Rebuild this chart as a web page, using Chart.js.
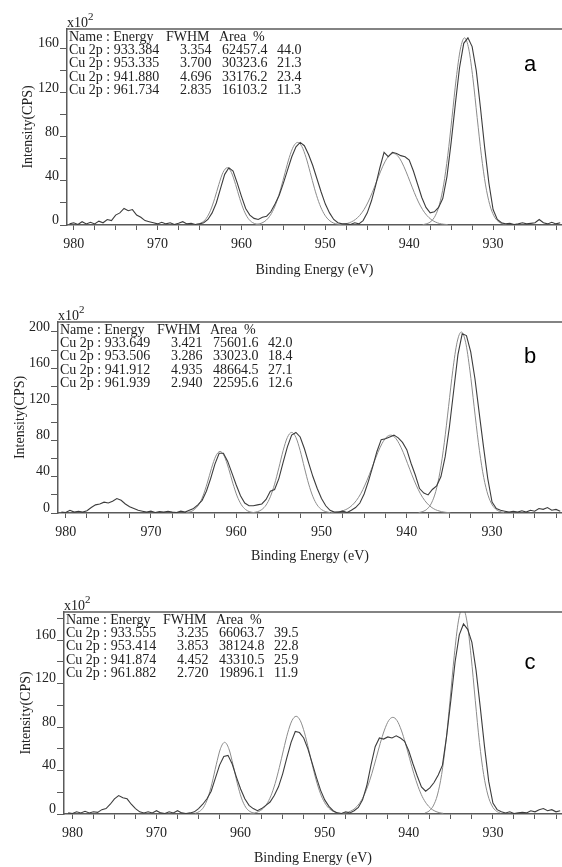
<!DOCTYPE html>
<html>
<head>
<meta charset="utf-8">
<title>Cu 2p XPS spectra</title>
<script src="https://cdn.jsdelivr.net/npm/chart.js@4.4.1/dist/chart.umd.min.js"></script>
<style>
  html, body { margin: 0; padding: 0; background: #fff; }
  body { width: 562px; height: 867px; position: relative; overflow: hidden; }
  .panel { position: absolute; left: 0; width: 562px; }
  #panelA { top: 0; height: 290px; }
  #panelB { top: 290px; height: 285px; }
  #panelC { top: 575px; height: 292px; }
</style>
</head>
<body>
<div class="panel" id="panelA"><canvas id="chartA"></canvas></div>
<div class="panel" id="panelB"><canvas id="chartB"></canvas></div>
<div class="panel" id="panelC"><canvas id="chartC"></canvas></div>
<script>
// Binding energy grid of the measured spectra (eV)
var energy = [
  980.5, 980, 979.5, 979, 978.5, 978, 977.5, 977, 976.5, 976,
  975.5, 975, 974.5, 974, 973.5, 973, 972.5, 972, 971.5, 971,
  970.5, 970, 969.5, 969, 968.5, 968, 967.5, 967, 966.5, 966,
  965.5, 965, 964.5, 964, 963.5, 963, 962.5, 962, 961.5, 961,
  960.5, 960, 959.5, 959, 958.5, 958, 957.5, 957, 956.5, 956,
  955.5, 955, 954.5, 954, 953.5, 953, 952.5, 952, 951.5, 951,
  950.5, 950, 949.5, 949, 948.5, 948, 947.5, 947, 946.5, 946,
  945.5, 945, 944.5, 944, 943.5, 943, 942.5, 942, 941.5, 941,
  940.5, 940, 939.5, 939, 938.5, 938, 937.5, 937, 936.5, 936,
  935.5, 935, 934.5, 934, 933.5, 933, 932.5, 932, 931.5, 931,
  930.5, 930, 929.5, 929, 928.5, 928, 927.5, 927, 926.5, 926,
  925.5, 925, 924.5, 924, 923.5, 923, 922.5, 922
];

// Measured intensity, x10^2 CPS
var countsA = [
  1, 2, 0.5, 3, 1, 2.5, 1, 3.5, 2, 5,
  4, 9, 11, 15, 13, 14, 9, 7, 4, 3,
  2, 1, 2.5, 1, 2, 0.5, 1.5, 3, 1, 1.5,
  0.5, 1, 2, 5, 11, 20, 33, 46, 52, 49,
  38, 26, 15, 9, 6, 5, 7, 8, 12, 19,
  27, 38, 50, 62, 71, 75, 72, 64, 54, 42,
  30, 19, 11, 5, 2, 1, 1, 0.5, 2, 1,
  4, 11, 22, 36, 52, 66, 62, 66, 65, 63,
  62, 59, 49, 37, 25, 16, 11, 12, 16, 24,
  44, 75, 110, 143, 165, 170, 162, 140, 106, 70,
  38, 14, 5, 2, 1, 1.5, 0.5, 1, 2, 1,
  1.5, 2, 5, 2, 1, 2.5, 1, 2
];
var countsB = [
  1, 0.5, 3, 1, 2, 1, 2.5, 6, 9, 10,
  12, 11, 13, 16, 14, 10, 7, 5, 3, 2,
  1, 2, 0.5, 1.5, 1, 2, 1, 0.5, 2, 1,
  3, 5, 9, 14, 24, 38, 54, 66, 66, 57,
  44, 31, 19, 11, 8, 8, 9, 10, 15, 24,
  26, 38, 56, 73, 86, 89, 84, 71, 55, 40,
  27, 16, 8, 3, 1, 1, 2, 0.5, 3, 6,
  11, 21, 35, 51, 68, 81, 82, 84, 86, 83,
  78, 70, 55, 42, 27, 22, 20, 26, 30, 40,
  62, 95, 135, 175, 198, 196, 178, 148, 110, 73,
  38, 12, 5, 3, 2, 1, 2, 1, 2.5, 1,
  3, 2, 5, 4, 6, 3, 4, 2
];
var countsC = [
  1, 0.5, 2, 1, 2.5, 1, 2, 1.5, 4, 5,
  9, 14, 17, 15, 14, 9, 5, 2, 1, 2,
  1, 3, 1, 0.5, 2, 1, 3, 1, 0.5, 1,
  2, 5, 9, 14, 21, 33, 45, 53, 54, 46,
  34, 23, 14, 8, 5, 3, 5, 8, 11, 17,
  25, 37, 52, 66, 76, 75, 70, 60, 47, 34,
  22, 13, 7, 3, 1, 0.5, 2, 1, 3, 6,
  13, 26, 45, 62, 70, 69, 71, 70, 72, 70,
  67, 58, 46, 35, 25, 21, 24, 29, 36, 45,
  72, 105, 140, 165, 175, 170, 158, 132, 98, 62,
  30, 10, 4, 2, 1, 2, 0.5, 1, 1.5, 1,
  3, 2, 4, 5, 3, 4, 2, 3
];

// Fitted Cu 2p components, panel a
var fitA1Energy = [938.4, 937.9, 937.4, 936.9, 936.4, 935.9, 935.4, 934.9, 934.4, 933.9, 933.4, 932.9, 932.4, 931.9, 931.4, 930.9, 930.4, 929.9, 929.4, 928.9, 928.4];
var fitA1Counts = [0.3, 1.2, 3.3, 8.3, 18.5, 36.4, 63.4, 97.6, 132.8, 159.8, 170, 159.8, 132.8, 97.6, 63.4, 36.4, 18.5, 8.3, 3.3, 1.2, 0.3];
var fitA2Energy = [958.3, 957.8, 957.3, 956.8, 956.3, 955.8, 955.3, 954.8, 954.3, 953.8, 953.3, 952.8, 952.3, 951.8, 951.3, 950.8, 950.3, 949.8, 949.3, 948.8, 948.3];
var fitA2Counts = [0.5, 1.2, 2.9, 6.3, 12.2, 21.2, 33.4, 47.6, 61.3, 71.3, 75, 71.3, 61.3, 47.6, 33.4, 21.2, 12.2, 6.3, 2.9, 1.2, 0.5];
var fitA3Energy = [948.4, 947.9, 947.4, 946.9, 946.4, 945.9, 945.4, 944.9, 944.4, 943.9, 943.4, 942.9, 942.4, 941.9, 941.4, 940.9, 940.4, 939.9, 939.4, 938.9, 938.4, 937.9, 937.4, 936.9, 936.4, 935.9, 935.4];
var fitA3Counts = [0.3, 0.7, 1.4, 2.8, 5.1, 8.7, 13.9, 20.9, 29.6, 39.3, 48.9, 57.3, 63, 65, 63, 57.3, 48.9, 39.3, 29.6, 20.9, 13.9, 8.7, 5.1, 2.8, 1.4, 0.7, 0.3];
var fitA4Energy = [965.7, 965.2, 964.7, 964.2, 963.7, 963.2, 962.7, 962.2, 961.7, 961.2, 960.7, 960.2, 959.7, 959.2, 958.7, 958.2, 957.7];
var fitA4Counts = [0.2, 0.8, 2.3, 6, 13.1, 23.9, 36.8, 47.7, 52, 47.7, 36.8, 23.9, 13.1, 6, 2.3, 0.8, 0.2];

// Fitted Cu 2p components, panel b
var fitB1Energy = [938.6, 938.1, 937.6, 937.1, 936.6, 936.1, 935.6, 935.1, 934.6, 934.1, 933.6, 933.1, 932.6, 932.1, 931.6, 931.1, 930.6, 930.1, 929.6, 929.1, 928.6];
var fitB1Counts = [0.5, 1.7, 4.5, 11, 23.8, 45.6, 77.6, 117.4, 157.8, 188.6, 200, 188.6, 157.8, 117.4, 77.6, 45.6, 23.8, 11, 4.5, 1.7, 0.5];
var fitB2Energy = [958, 957.5, 957, 956.5, 956, 955.5, 955, 954.5, 954, 953.5, 953, 952.5, 952, 951.5, 951, 950.5, 950, 949.5, 949];
var fitB2Counts = [0.5, 1.5, 3.8, 8.8, 17.9, 31.9, 49.9, 68.9, 83.5, 89, 83.5, 68.9, 49.9, 31.9, 17.9, 8.8, 3.8, 1.5, 0.5];
var fitB3Energy = [948.9, 948.4, 947.9, 947.4, 946.9, 946.4, 945.9, 945.4, 944.9, 944.4, 943.9, 943.4, 942.9, 942.4, 941.9, 941.4, 940.9, 940.4, 939.9, 939.4, 938.9, 938.4, 937.9, 937.4, 936.9, 936.4, 935.9, 935.4, 934.9];
var fitB3Counts = [0.3, 0.7, 1.4, 2.8, 5, 8.6, 13.9, 21.3, 30.9, 42.2, 54.5, 66.6, 76.7, 83.6, 86, 83.6, 76.7, 66.6, 54.5, 42.2, 30.9, 21.3, 13.9, 8.6, 5, 2.8, 1.4, 0.7, 0.3];
var fitB4Energy = [965.9, 965.4, 964.9, 964.4, 963.9, 963.4, 962.9, 962.4, 961.9, 961.4, 960.9, 960.4, 959.9, 959.4, 958.9, 958.4, 957.9];
var fitB4Counts = [0.4, 1.3, 3.8, 9.2, 18.8, 33, 49.4, 62.8, 68, 62.8, 49.4, 33, 18.8, 9.2, 3.8, 1.3, 0.4];

// Fitted Cu 2p components, panel c
var fitC1Energy = [938.1, 937.6, 937.1, 936.6, 936.1, 935.6, 935.1, 934.6, 934.1, 933.6, 933.1, 932.6, 932.1, 931.6, 931.1, 930.6, 930.1, 929.6, 929.1];
var fitC1Counts = [0.9, 2.7, 7.4, 17.5, 36.3, 65.7, 104.7, 145.7, 177.8, 190, 177.8, 145.7, 104.7, 65.7, 36.3, 17.5, 7.4, 2.7, 0.9];
var fitC2Energy = [958.9, 958.4, 957.9, 957.4, 956.9, 956.4, 955.9, 955.4, 954.9, 954.4, 953.9, 953.4, 952.9, 952.4, 951.9, 951.4, 950.9, 950.4, 949.9, 949.4, 948.9, 948.4, 947.9];
var fitC2Counts = [0.3, 0.8, 2.1, 4.5, 9.1, 16.7, 28, 42.7, 59.1, 74.7, 85.9, 90, 85.9, 74.7, 59.1, 42.7, 28, 16.7, 9.1, 4.5, 2.1, 0.8, 0.3];
var fitC3Energy = [947.9, 947.4, 946.9, 946.4, 945.9, 945.4, 944.9, 944.4, 943.9, 943.4, 942.9, 942.4, 941.9, 941.4, 940.9, 940.4, 939.9, 939.4, 938.9, 938.4, 937.9, 937.4, 936.9, 936.4, 935.9];
var fitC3Counts = [0.6, 1.3, 2.7, 5.2, 9.5, 16, 25.3, 37.1, 50.9, 65, 77.3, 86, 89, 86, 77.3, 65, 50.9, 37.1, 25.3, 16, 9.5, 5.2, 2.7, 1.3, 0.6];
var fitC4Energy = [965.4, 964.9, 964.4, 963.9, 963.4, 962.9, 962.4, 961.9, 961.4, 960.9, 960.4, 959.9, 959.4, 958.9, 958.4];
var fitC4Counts = [0.7, 2.3, 6.3, 14.7, 28.4, 45.3, 60.1, 66, 60.1, 45.3, 28.4, 14.7, 6.3, 2.3, 0.7];

// Peak tables printed in each panel
var peakEnergyA = [933.384, 953.335, 941.880, 961.734];
var peakFwhmA = [3.354, 3.700, 4.696, 2.835];
var peakAreaA = [62457.4, 30323.6, 33176.2, 16103.2];
var peakPctA = [44.0, 21.3, 23.4, 11.3];
var peakEnergyB = [933.649, 953.506, 941.912, 961.939];
var peakFwhmB = [3.421, 3.286, 4.935, 2.940];
var peakAreaB = [75601.6, 33023.0, 48664.5, 22595.6];
var peakPctB = [42.0, 18.4, 27.1, 12.6];
var peakEnergyC = [933.555, 953.414, 941.874, 961.882];
var peakFwhmC = [3.235, 3.853, 4.452, 2.720];
var peakAreaC = [66063.7, 38124.8, 43310.5, 19896.1];
var peakPctC = [39.5, 22.8, 25.9, 11.9];

// Tick labels
var xTickLabels = [980, 970, 960, 950, 940, 930];
var yTickLabelsA = [0, 40, 80, 120, 160];
var yTickLabelsB = [0, 40, 80, 120, 160, 200];
var yTickLabelsC = [0, 40, 80, 120, 160];

var SERIF = '"Liberation Serif", "DejaVu Serif", serif';
var AXIS_COLOR = '#5a5a5a';
var TEXT_COLOR = '#222';

/**
 * Pair an energy array with an intensity array as {x, y} points
 */
function toPoints(xs, ys) {
  return xs.map(function (x, i) {
    return { x: x, y: ys[i] };
  });
}

/**
 * Plugin drawing the frame top, the x10^2 mark, the peak table and the panel letter
 */
var decorPlugin = {
  id: 'decor',
  afterDraw: function (chart, args, opts) {
    var ctx = chart.ctx;
    var area = chart.chartArea;
    ctx.save();

    // top frame line
    ctx.strokeStyle = AXIS_COLOR;
    ctx.lineWidth = 1.5;
    ctx.beginPath();
    ctx.moveTo(area.left, area.top);
    ctx.lineTo(chart.width, area.top);
    ctx.stroke();

    // x10^2 multiplier
    ctx.fillStyle = TEXT_COLOR;
    ctx.textAlign = 'left';
    ctx.textBaseline = 'alphabetic';
    ctx.font = '14px ' + SERIF;
    ctx.fillText('x10', area.left, area.top - 2);
    var w = ctx.measureText('x10').width;
    ctx.font = '11px ' + SERIF;
    ctx.fillText('2', area.left + w, area.top - 9);

    // peak table
    var tx = area.left + 2;
    var ty = area.top + 1;
    var rowH = 13.3;
    ctx.font = '14px ' + SERIF;
    ctx.textBaseline = 'top';
    ctx.fillText('Name : Energy', tx, ty);
    ctx.fillText('FWHM', tx + 97, ty);
    ctx.fillText('Area', tx + 150, ty);
    ctx.fillText('%', tx + 184, ty);
    for (var i = 0; i < opts.energy.length; i++) {
      var y = ty + rowH * (i + 1);
      ctx.fillText('Cu 2p : ' + opts.energy[i].toFixed(3), tx, y);
      ctx.fillText(opts.fwhm[i].toFixed(3), tx + 111, y);
      ctx.fillText(opts.area[i].toFixed(1), tx + 153, y);
      ctx.fillText(opts.pct[i].toFixed(1), tx + 208, y);
    }

    // panel letter
    ctx.fillStyle = '#000';
    ctx.font = '22px "Liberation Sans", Arial, sans-serif';
    ctx.textAlign = 'center';
    ctx.textBaseline = 'middle';
    ctx.fillText(opts.letter, opts.letterX, opts.letterY);
    ctx.restore();
  }
};

/**
 * Build one spectrum panel
 */
function buildPanel(canvasId, cfg) {
  var datasets = [{
    data: toPoints(energy, cfg.counts),
    borderColor: '#3c3c3c',
    borderWidth: 1.1
  }];
  cfg.fits.forEach(function (fit) {
    datasets.push({
      data: toPoints(fit[0], fit[1]),
      borderColor: '#8c8c8c',
      borderWidth: 1,
      cubicInterpolationMode: 'monotone'
    });
  });
  datasets.forEach(function (ds) {
    ds.pointRadius = 0;
    ds.fill = false;
  });

  return new Chart(document.getElementById(canvasId), {
    type: 'line',
    data: { datasets: datasets },
    options: {
      responsive: true,
      maintainAspectRatio: false,
      animation: false,
      events: [],
      layout: { padding: { top: cfg.plotTop, right: 0, bottom: 0, left: 0 } },
      plugins: {
        legend: { display: false },
        tooltip: { enabled: false },
        decor: cfg.decor
      },
      scales: {
        x: {
          type: 'linear',
          reverse: true,
          min: 921.8,
          max: cfg.xMax,
          afterFit: function (scale) { scale.height = cfg.axisHeight; },
          border: { color: AXIS_COLOR, width: 1.5 },
          grid: { drawOnChartArea: false, drawTicks: true, tickLength: 5, color: AXIS_COLOR },
          ticks: {
            stepSize: 2.5,
            autoSkip: false,
            maxRotation: 0,
            includeBounds: false,
            padding: 6,
            color: TEXT_COLOR,
            font: { family: SERIF, size: 14 },
            callback: function (value) {
              return xTickLabels.indexOf(value) >= 0 ? String(value) : '';
            }
          },
          title: {
            display: true,
            text: 'Binding Energy (eV)',
            color: TEXT_COLOR,
            font: { family: SERIF, size: 14 },
            padding: { top: 0, bottom: cfg.xTitlePad }
          }
        },
        y: {
          min: 0,
          max: cfg.yMax,
          afterFit: function (scale) { scale.width = cfg.plotLeft; },
          border: { color: AXIS_COLOR, width: 1.5 },
          grid: { drawOnChartArea: false, drawTicks: true, tickLength: 7, color: AXIS_COLOR },
          ticks: {
            stepSize: 20,
            autoSkip: false,
            includeBounds: false,
            padding: 1,
            labelOffset: -5,
            color: TEXT_COLOR,
            font: { family: SERIF, size: 14 },
            callback: function (value) {
              return cfg.yLabels.indexOf(value) >= 0 ? String(value) : '';
            }
          },
          title: {
            display: true,
            text: 'Intensity(CPS)',
            color: TEXT_COLOR,
            font: { family: SERIF, size: 14 },
            padding: { top: cfg.yTitlePad, bottom: 0 }
          }
        }
      }
    },
    plugins: [decorPlugin]
  });
}

buildPanel('chartA', {
  counts: countsA,
  fits: [[fitA1Energy, fitA1Counts], [fitA2Energy, fitA2Counts], [fitA3Energy, fitA3Counts], [fitA4Energy, fitA4Counts]],
  yLabels: yTickLabelsA,
  yMax: 178,
  xMax: 980.8,
  plotTop: 29,
  plotLeft: 67,
  axisHeight: 65,
  xTitlePad: 11,
  yTitlePad: 20,
  decor: { energy: peakEnergyA, fwhm: peakFwhmA, area: peakAreaA, pct: peakPctA, letter: 'a', letterX: 530, letterY: 65 }
});

buildPanel('chartB', {
  counts: countsB,
  fits: [[fitB1Energy, fitB1Counts], [fitB2Energy, fitB2Counts], [fitB3Energy, fitB3Counts], [fitB4Energy, fitB4Counts]],
  yLabels: yTickLabelsB,
  yMax: 211,
  xMax: 980.9,
  plotTop: 32,
  plotLeft: 58,
  axisHeight: 62,
  xTitlePad: 10,
  yTitlePad: 12,
  decor: { energy: peakEnergyB, fwhm: peakFwhmB, area: peakAreaB, pct: peakPctB, letter: 'b', letterX: 530, letterY: 67 }
});

buildPanel('chartC', {
  counts: countsC,
  fits: [[fitC1Energy, fitC1Counts], [fitC2Energy, fitC2Counts], [fitC3Energy, fitC3Counts], [fitC4Energy, fitC4Counts]],
  yLabels: yTickLabelsC,
  yMax: 186,
  xMax: 981,
  plotTop: 37,
  plotLeft: 64,
  axisHeight: 53,
  xTitlePad: 0,
  yTitlePad: 18,
  decor: { energy: peakEnergyC, fwhm: peakFwhmC, area: peakAreaC, pct: peakPctC, letter: 'c', letterX: 530, letterY: 88 }
});
</script>
</body>
</html>
